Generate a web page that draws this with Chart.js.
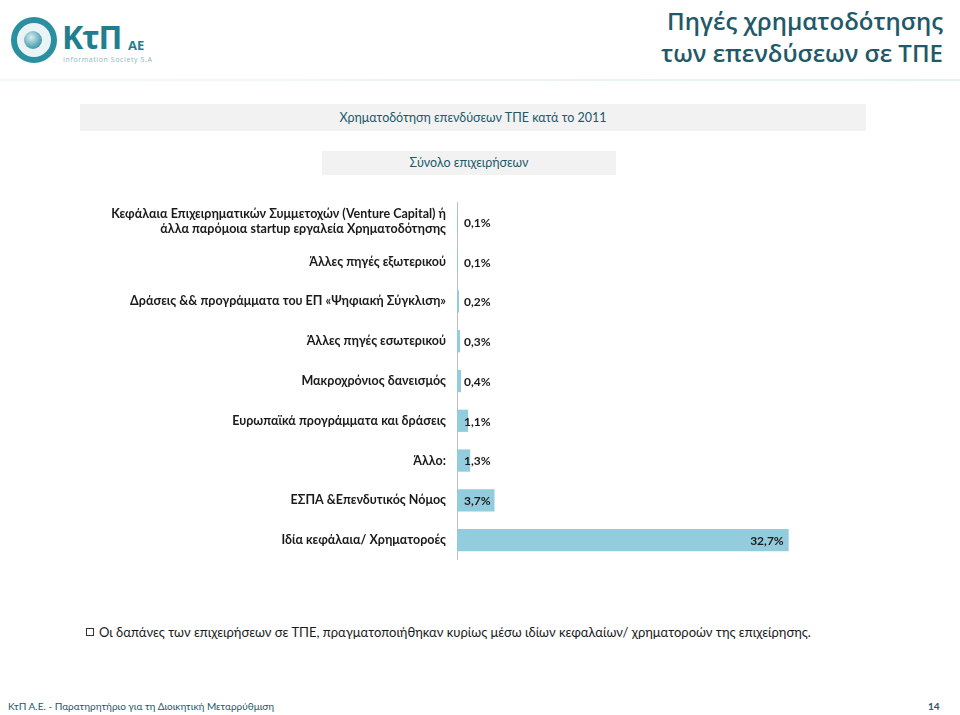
<!DOCTYPE html>
<html>
<head>
<meta charset="utf-8">
<script src="https://cdn.jsdelivr.net/npm/chart.js@4.4.1/dist/chart.umd.min.js"></script>
<style>
	body { margin: 0; background: #fff; font-family: Lato, "Open Sans", sans-serif; }
	#page { position: relative; width: 960px; height: 715px; overflow: hidden; }
	.logo-ring { position: absolute; left: 11px; top: 17px; width: 34px; height: 34px; border-radius: 50%;
		border: 6px solid #2a8fa0; background: #eaf4f6; }
	.logo-ball { position: absolute; left: 24px; top: 31px; width: 18px; height: 18px; border-radius: 50%;
		background: radial-gradient(circle at 40% 35%, #d8eef2, #5aa8b6 60%, #2d7f8f); }
	.logo-text { position: absolute; left: 62px; top: 15px; font: bold 32px "Open Sans", sans-serif; color: #1f7f8f; letter-spacing: -1px; }
	.logo-ae { position: absolute; left: 128px; top: 36px; font: bold 13px "Open Sans", sans-serif; color: #1f7f8f; }
	.logo-sub { position: absolute; left: 63px; top: 55px; font: 7px "Open Sans", sans-serif; color: #8fb4bc; letter-spacing: 0.6px; }
	.title { position: absolute; right: 17px; top: 5px; text-align: right; font: 600 24px/32px "Open Sans", sans-serif; color: #215968; }
	.hr { position: absolute; left: 0; top: 79px; width: 960px; height: 2px; background: linear-gradient(90deg, #f2f8f9, #e4f1f3); }
	.panel { position: absolute; background: #f2f2f2; color: #215968; font-size: 12.5px; text-align: center; }
	#chart-wrap { position: absolute; left: 0; top: 202px; width: 960px; height: 358px; }
	.note { position: absolute; left: 86px; top: 624px; font-size: 13px; color: #1a1a1a; }
	.note .box { display: inline-block; width: 6px; height: 6px; border: 1px solid #333; margin-right: 5px; vertical-align: 1px; }
	.footer { position: absolute; top: 700px; font-size: 10px; color: #215968; }
</style>
</head>
<body>
<div id="page">
	<div class="logo-ring"></div>
	<div class="logo-ball"></div>
	<div class="logo-text">ΚτΠ</div>
	<div class="logo-ae">ΑΕ</div>
	<div class="logo-sub">Information Society S.A</div>
	<div class="title">Πηγές χρηματοδότησης<br>των επενδύσεων σε ΤΠΕ</div>
	<div class="hr"></div>

	<div class="panel" style="left:80px; top:104px; width:786px; height:27px; line-height:27px;">Χρηματοδότηση επενδύσεων ΤΠΕ κατά το 2011</div>
	<div class="panel" style="left:322px; top:151px; width:294px; height:24px; line-height:24px;">Σύνολο επιχειρήσεων</div>

	<div id="chart-wrap"><canvas id="chart"></canvas></div>

	<div class="note"><span class="box"></span>Οι δαπάνες των επιχειρήσεων σε ΤΠΕ, πραγματοποιήθηκαν κυρίως μέσω ιδίων κεφαλαίων/ χρηματορoών της επιχείρησης.</div>
	<div class="footer" style="left:8px;">ΚτΠ Α.Ε. - Παρατηρητήριο για τη Διοικητική Μεταρρύθμιση</div>
	<div class="footer" style="left:928px; font-weight:bold;">14</div>
</div>

<script>
// Data
const categories = [
	['Κεφάλαια Επιχειρηματικών Συμμετοχών (Venture Capital) ή', 'άλλα παρόμοια startup εργαλεία Χρηματοδότησης'],
	'Άλλες πηγές εξωτερικού',
	'Δράσεις && προγράμματα του ΕΠ «Ψηφιακή Σύγκλιση»',
	'Άλλες πηγές εσωτερικού',
	'Μακροχρόνιος δανεισμός',
	'Ευρωπαϊκά προγράμματα και δράσεις',
	'Άλλο:',
	'ΕΣΠΑ &Επενδυτικός Νόμος',
	'Ιδία κεφάλαια/ Χρηματοροές'
];
const shares = [0.1, 0.1, 0.2, 0.3, 0.4, 1.1, 1.3, 3.7, 32.7];

const AXIS_X = 457;

// draws the value labels next to / inside the bar ends
const valueLabels = {
	id: 'valueLabels',
	afterDatasetsDraw(chart) {
		const ctx = chart.ctx;
		const meta = chart.getDatasetMeta(0);
		ctx.save();
		ctx.font = 'bold 12px Lato, "Open Sans", sans-serif';
		ctx.fillStyle = '#1a1a1a';
		ctx.textBaseline = 'middle';
		meta.data.forEach((bar, i) => {
			const txt = shares[i].toFixed(1).replace('.', ',') + '%';
			const w = ctx.measureText(txt).width;
			const x = Math.max(bar.x - w - 5, chart.chartArea.left + 7);
			ctx.fillText(txt, x, bar.y + 1);
		});
		ctx.restore();
	}
};

new Chart(document.getElementById('chart'), {
	type: 'bar',
	data: {
		labels: categories,
		datasets: [{
			data: shares,
			backgroundColor: '#93cddd',
			borderWidth: 0,
			categoryPercentage: 1,
			barPercentage: 0.56
		}]
	},
	options: {
		indexAxis: 'y',
		responsive: true,
		maintainAspectRatio: false,
		animation: false,
		layout: { padding: { top: 0, bottom: 0, right: 148 } },
		plugins: {
			legend: { display: false },
			tooltip: { enabled: false }
		},
		scales: {
			x: {
				display: false,
				min: 0,
				max: 35
			},
			y: {
				afterFit: (s) => {
					s.width = AXIS_X;
					s.paddingTop = 0;
					s.paddingBottom = 0;
				},
				grid: { display: false, drawTicks: false },
				border: { display: true, color: '#c0c0c0', width: 1 },
				ticks: {
					padding: 11,
					color: '#1a1a1a',
					font: { family: 'Lato, "Open Sans", sans-serif', size: 12.5, weight: 'bold' }
				}
			}
		}
	},
	plugins: [valueLabels]
});
</script>
</body>
</html>
